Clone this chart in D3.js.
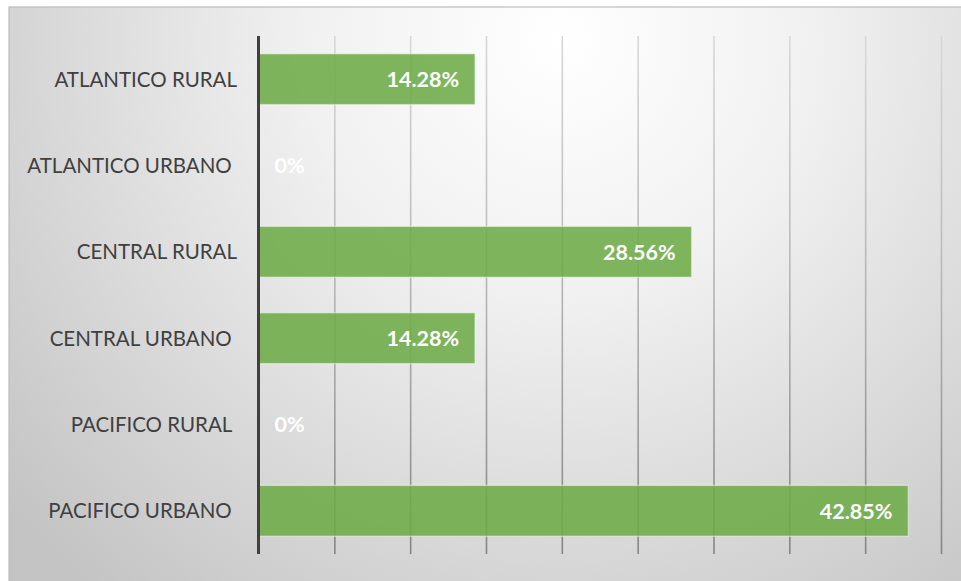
<!DOCTYPE html>
<html>
<head>
<meta charset="utf-8">
<script src="https://cdn.jsdelivr.net/npm/d3@7"></script>
<style>
  html, body { margin: 0; padding: 0; background: #ffffff; }
  svg { display: block; }
  text { font-family: Lato, "Open Sans", sans-serif; white-space: pre; }
</style>
</head>
<body>
<svg id="chart" width="961" height="581"></svg>
<script>
// Share of cases by region and area (%)
const categories = [
  "ATLANTICO RURAL",
  "ATLANTICO URBANO ",
  "CENTRAL RURAL",
  "CENTRAL URBANO ",
  "PACIFICO RURAL ",
  "PACIFICO URBANO "
];
const values = [14.28, 0, 28.56, 14.28, 0, 42.85];
const valueLabels = ["14.28%", "0%", "28.56%", "14.28%", "0%", "42.85%"];
const xTicks = [0, 5, 10, 15, 20, 25, 30, 35, 40, 45];

const frame = { left: 9, top: 7, right: 961, bottom: 581 };
const plot = { left: 258.5, right: 941, top: 36, bottom: 554 };
const plotH = plot.bottom - plot.top;

const svg = d3.select("#chart");
const defs = svg.append("defs");

// soft radial background: bright near the top centre, grey toward the edges
const bg = defs.append("radialGradient")
  .attr("id", "bgGrad")
  .attr("gradientUnits", "userSpaceOnUse")
  .attr("cx", 560).attr("cy", 40).attr("r", 720);
bg.append("stop").attr("offset", 0).attr("stop-color", "#ffffff");
bg.append("stop").attr("offset", 0.35).attr("stop-color", "#f1f1f1");
bg.append("stop").attr("offset", 1).attr("stop-color", "#c4c4c4");

// gridlines darken toward the bottom (coordinates local to the grid group)
const gridGrad = defs.append("linearGradient")
  .attr("id", "gridGrad")
  .attr("gradientUnits", "userSpaceOnUse")
  .attr("x1", 0).attr("y1", -plotH).attr("x2", 0).attr("y2", 0);
gridGrad.append("stop").attr("offset", 0).attr("stop-color", "#d8d8d8");
gridGrad.append("stop").attr("offset", 0.5).attr("stop-color", "#b4b4b4");
gridGrad.append("stop").attr("offset", 1).attr("stop-color", "#858585");

svg.append("rect")
  .attr("x", frame.left).attr("y", frame.top)
  .attr("width", frame.right - frame.left + 2)
  .attr("height", frame.bottom - frame.top + 2)
  .attr("fill", "url(#bgGrad)")
  .attr("stroke", "#bcbcbc")
  .attr("stroke-width", 1.2);

const x = d3.scaleLinear().domain([0, 45]).range([plot.left, plot.right]);
const y = d3.scaleBand()
  .domain(categories)
  .range([plot.top, plot.bottom])
  .paddingInner(0.41)
  .paddingOuter(0.205);

// vertical gridlines
const grid = d3.axisBottom(x)
  .tickValues(xTicks.slice(1))
  .tickSize(-plotH)
  .tickFormat("");
svg.append("g")
  .attr("transform", `translate(0,${plot.bottom})`)
  .call(grid)
  .call(g => g.select(".domain").remove())
  .call(g => g.selectAll(".tick line")
    .attr("stroke", "url(#gridGrad)")
    .attr("stroke-width", 1.6));

// bars
svg.append("g").selectAll("rect")
  .data(values)
  .join("rect")
  .attr("x", x(0))
  .attr("y", (d, i) => y(categories[i]))
  .attr("width", d => x(d) - x(0))
  .attr("height", y.bandwidth())
  .attr("fill", "#6dab45")
  .attr("fill-opacity", 0.88)
  .attr("stroke", "#ffffff")
  .attr("stroke-opacity", 0.45)
  .attr("stroke-width", 1.5)
  .attr("display", d => d > 0 ? null : "none");

// category axis
const yAxis = d3.axisLeft(y).tickSize(0).tickPadding(0);
svg.append("g")
  .attr("transform", `translate(${plot.left},0)`)
  .call(yAxis)
  .call(g => g.select(".domain").remove())
  .call(g => g.selectAll(".tick text")
    .attr("x", 237 - plot.left)
    .attr("dy", "0.36em")
    .attr("font-size", 20.5)
    .attr("font-family", "Lato, 'Open Sans', sans-serif")
    .attr("fill", "#404040"));

// axis baseline
svg.append("line")
  .attr("x1", x(0)).attr("x2", x(0))
  .attr("y1", plot.top).attr("y2", plot.bottom)
  .attr("stroke", "#404040")
  .attr("stroke-width", 3);

// value labels inside the bar ends
svg.append("g").selectAll("text")
  .data(values)
  .join("text")
  .attr("x", d => d > 0 ? x(d) - 16 : x(0) + 16)
  .attr("y", (d, i) => y(categories[i]) + y.bandwidth() / 2)
  .attr("dy", "0.36em")
  .attr("text-anchor", d => d > 0 ? "end" : "start")
  .attr("font-size", 21.5)
  .attr("font-weight", 700)
  .attr("fill", "#ffffff")
  .text((d, i) => valueLabels[i]);
</script>
</body>
</html>
